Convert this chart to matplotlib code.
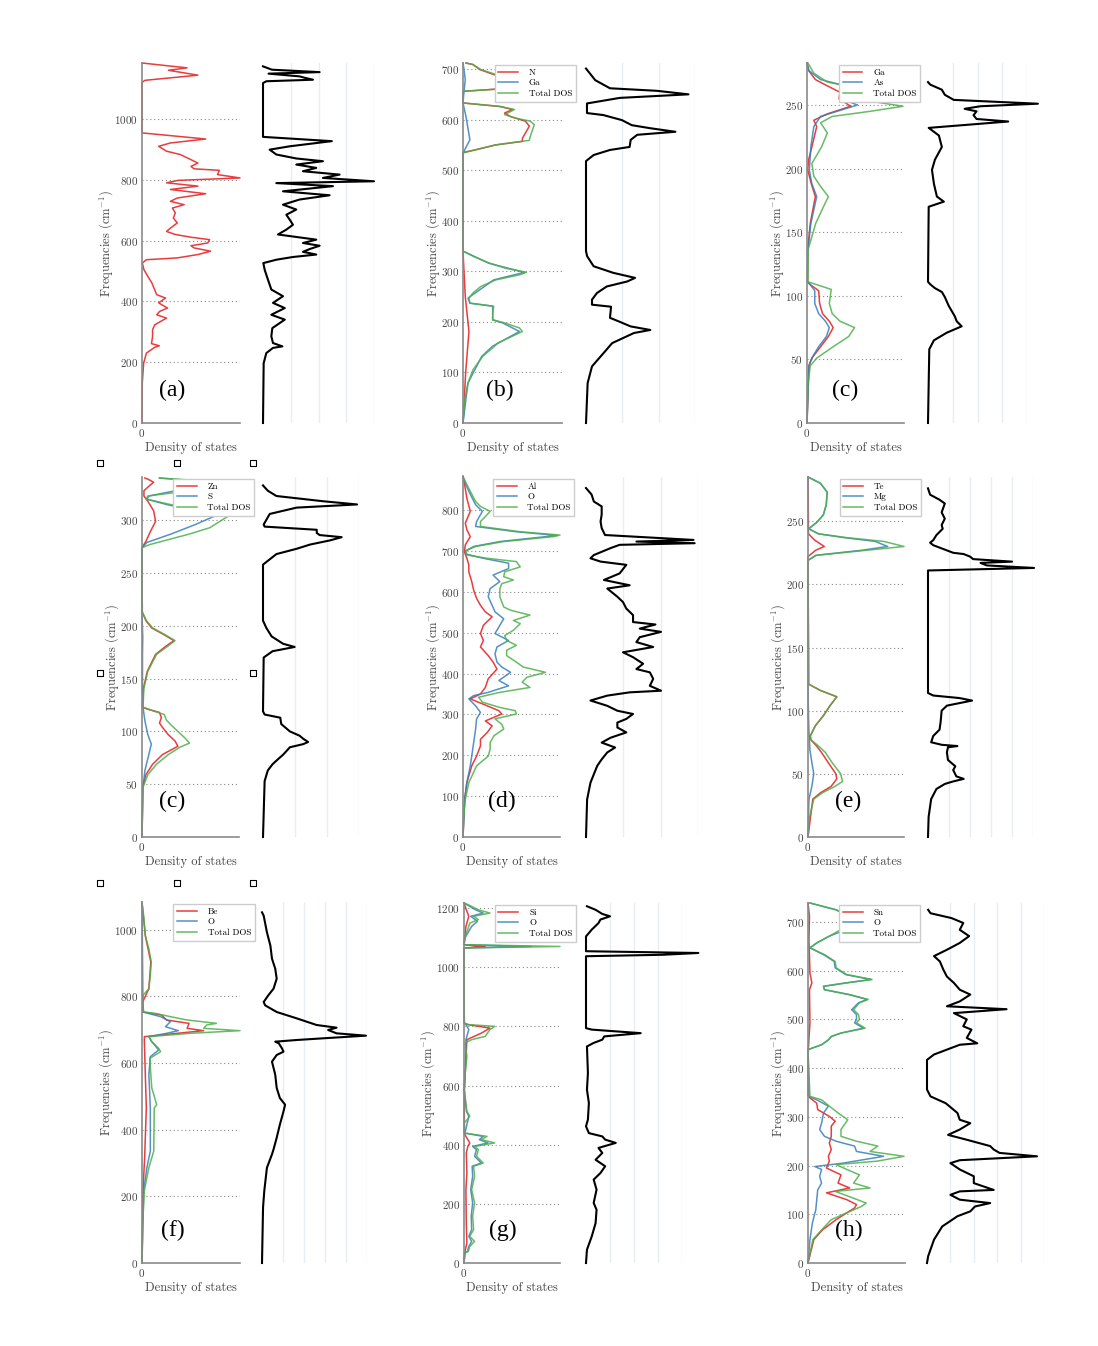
import matplotlib
matplotlib.use('Agg')
import matplotlib.pyplot as plt

# ---- data: (frequency cm^-1, DOS in % of panel width) ----
a_red = [(0,0),(132,0.3),(197,1.7),(230,4.5),(249,13),(254,17.7),(261,9.7),(285,10.8),(307,10.8),(323,13),(345,25),(356,15),(367,18),(378,26),(395,17),(411,24),(422,15),(461,10),(482,6),(504,2),(526,0.3),(537,4.5),(543,36),(554,57),(565,70),(576,53),(583,50),(592,67),(603,69),(611,50),(620,34),(630,25),(641,29),(658,36),(674,32),(691,34),(707,31),(718,43),(729,29),(740,36),(754,65),(768,29),(779,57),(790,25),(798,37),(806,100),(817,77),(831,79),(836,53),(844,50),(855,57),(866,50),(883,39),(894,25),(910,17),(921,29),(934,65),(943,36),(954,0.3),(965,0),(1120,0),(1127,3),(1144,57),(1160,27),(1168,46),(1184,0)]
a_black = [(0,0),(197,0.6),(230,3),(247,9),(252,17.5),(263,9),(285,7.5),(312,8.4),(340,19.6),(356,7.5),(378,19.6),(395,9),(417,18),(439,7.5),(471,4.5),(504,1.5),(526,0.3),(537,12),(546,27),(554,48),(563,36),(572,42),(583,51),(592,36),(603,48),(620,13.5),(636,21),(652,27),(669,24),(685,21),(702,30),(718,18),(735,33),(749,60),(762,18),(779,63),(789,12),(795,100),(806,54),(817,69),(828,36),(839,48),(850,30),(861,54),(870,30),(883,12),(899,6),(910,24),(927,62),(941,0),(1118,0),(1124,3),(1129,45),(1135,38),(1140,33),(1149,5),(1154,51),(1162,8),(1173,0)]

b_n = [(0,0),(100,2.7),(181,6),(250,2.3),(300,1),(340,0),(535,0),(540,12),(550,33),(557,60),(563,60),(587,67),(597,63),(606,48),(613,42),(620,50),(626,37),(633,0),(656,0),(659,23),(669,100),(676,73),(685,37),(699,17),(709,10),(712,3)]
b_ga = [(0,0),(79,5),(132,19),(152,30),(181,57),(198,40),(204,30),(231,30),(237,7),(247,5),(283,31),(298,62),(316,26),(340,0),(534,0),(560,7),(606,3),(633,0),(656,1),(679,2.3),(699,1),(712,0)]
b_total = [(0,0),(46,1.7),(79,5),(105,10),(132,20),(152,32),(158,35),(181,60),(188,57),(198,42),(204,30),(218,30),(231,31),(237,7),(247,6),(257,10),(270,18),(283,33),(293,57),(298,64),(306,43),(316,27),(330,10),(340,0),(534,0),(540,12),(550,33),(559,67),(567,68),(590,72),(597,68),(603,53),(610,42),(620,52),(626,38),(633,0),(656,0),(660,33),(669,99),(676,77),(685,40),(699,18),(709,10),(712,3)]
b_black = [(0,0),(79,1.5),(112,5.5),(138,16),(158,24),(178,44),(184,59),(191,41),(201,30),(208,22),(230,23),(234,5.5),(244,5.5),(257,10),(270,19),(280,38),(287,45),(297,25),(310,7),(330,1),(340,0),(518,0),(530,7),(540,22),(546,40),(560,41),(570,47),(576,82),(583,59),(589,42),(599,33),(609,16),(613,0.9),(632,0.9),(643,31),(650,94),(657,65),(662,22),(678,8.5),(701,0)]

c_ga = [(0,0),(45,2),(51,5),(60,14),(68,22),(75,27),(80,23),(86,16),(94,13),(104,12),(109,3),(111,0.5),(136,0.7),(157,3.4),(178,8.6),(188,4.5),(199,0.7),(207,1.7),(217,5),(233,10),(238,7),(243,21),(249,45),(255,33),(260,34),(265,21),(270,8.6),(277,1.7),(283,0)]
c_as = [(0,0),(45,2),(51,5),(60,12),(68,20),(75,23),(80,19),(86,12),(94,8),(104,8),(109,3),(111,0.5),(136,1),(157,4),(178,10),(188,5),(199,2.4),(217,4),(233,7),(241,14),(250,52),(254,38),(259,38),(264,45),(270,14),(277,2),(283,0)]
c_total = [(0,0),(31,1),(45,3.4),(51,10),(60,27),(68,43),(75,49),(80,34),(86,26),(94,23),(105,25),(109,9),(111,1),(136,1),(157,9),(170,17),(178,22),(186,14),(194,7),(204,5),(217,15),(228,21),(236,14),(241,26),(245,65),(249,99),(253,65),(255,55),(260,82),(264,48),(268,21),(275,7),(283,1)]
c_black = [(0,0),(58,1.3),(65,6),(71,19),(76,34),(80,29),(84,27),(92,21),(99,17),(103,14),(106,7),(109,2.3),(111,0),(170,0.7),(174,16),(178,9),(188,6),(199,4),(207,7),(217,14),(226,11),(232,0.7),(237,81),(239,49),(242,46),(245,49),(247,37),(249,53),(251,111),(254,26),(258,17),(262,14),(266,2.3),(268,0)]

z_zn = [(0,0),(47,0.7),(59,4),(69,11),(78,21),(86,37),(91,34),(97,27),(104,21),(108,18),(113,20),(118,18),(121,6),(123,0.3),(141,1.5),(157,5.5),(173,14),(181,25),(186,33),(192,22),(198,10),(205,4),(213,0.3),(274,0),(280,4),(290,9),(299,14),(309,12),(318,6),(323,2),(328,2),(333,8),(336,12),(339,6),(340,3)]
z_s = [(0,0),(47,1),(63,3),(78,7),(88,9.6),(97,6),(110,3),(123,1),(141,0.5),(173,0.5),(189,0.8),(211,0),(274,0),(279,5),(287,30),(296,55),(304,75),(309,55),(315,25),(320,5),(323,7),(329,40),(334,86),(337,60),(340,18)]
z_total = [(0,0),(47,1),(59,6),(69,15),(78,27),(85,39),(89,49),(94,44),(100,37),(107,29),(111,25),(116,23),(119,13),(123,1),(141,2),(157,6),(173,15),(181,27),(186,34),(192,23),(198,11),(205,4.5),(213,0.3),(274,0),(277,8),(287,49),(293,70),(304,89),(309,67),(315,29),(320,4.5),(323,6),(328,49),(333,84),(335,99),(337,70),(340,18)]
z_black = [(0,0),(53,1.7),(63,5),(69,10),(74,16),(78,21),(85,28),(88,42),(90,47),(93,42),(96,38),(100,28),(107,19),(113,18),(116,1.7),(119,0),(170,0.7),(176,10),(180,33),(183,21),(190,9),(198,3.5),(205,0),(258,0),(268,14),(273,35),(277,49),(281,70),(284,82),(286,59),(288,56),(291,56),(294,1.7),(296,0.7),(306,7),(312,35),(315,98),(318,63),(323,14),(328,5),(333,0)]

d_al = [(0,0),(92,1.7),(133,4),(174,9),(198,14),(223,18),(239,18),(256,25),(272,30),(284,23),(301,40),(309,37),(321,25),(338,7.5),(350,18),(366,23),(387,26),(411,35),(428,31),(444,26),(465,18),(481,21),(498,18),(518,21),(539,30),(551,23),(567,18),(584,14),(604,11),(625,9),(649,6),(666,6),(682,4),(698,1.4),(715,2.4),(735,7.5),(752,4),(768,2.4),(797,7.5),(829,4),(862,1.7),(883,0)]
d_o = [(0,0),(92,1.7),(133,4),(174,7.5),(198,9),(231,11),(264,13),(289,14),(305,18),(321,13),(338,6),(346,11),(354,26),(370,47),(383,37),(403,49),(416,40),(428,35),(448,33),(465,35),(481,47),(498,33),(514,37),(534,42),(551,33),(567,30),(588,26),(608,28),(625,38),(641,31),(657,47),(670,47),(682,21),(692,4),(700,2.4),(711,11),(723,38),(738,97),(747,55),(760,13),(772,14),(797,20),(813,13),(846,6),(879,0)]
d_total = [(0,0),(51,0.7),(92,2.4),(133,6),(174,14),(198,26),(215,28),(231,28),(248,32),(264,42),(276,40),(289,33),(301,55),(309,54),(317,38),(330,20),(342,16),(354,38),(366,69),(379,61),(391,66),(403,85),(416,62),(428,55),(444,45),(457,45),(469,55),(481,45),(493,43),(506,52),(522,59),(530,52),(543,69),(555,49),(563,42),(575,40),(588,38),(608,38),(620,40),(629,52),(637,42),(649,43),(661,59),(674,55),(682,25),(690,4),(700,2.4),(711,13),(723,42),(735,93),(739,100),(747,59),(760,18),(772,18),(784,23),(797,28),(809,18),(821,13),(846,7.5),(870,2.4),(883,0)]
d_black = [(0,0),(92,1),(133,4),(174,10),(190,14),(207,19),(219,26),(231,14),(243,22),(256,36),(268,28),(280,28),(289,36),(301,42),(309,28),(321,19),(334,4),(346,19),(354,39),(358,67),(370,57),(387,60),(403,57),(411,45),(424,51),(440,42),(452,33),(465,60),(477,45),(489,48),(502,67),(510,48),(520,62),(526,42),(543,42),(559,36),(575,33),(588,28),(608,19),(616,39),(629,16),(645,30),(666,36),(674,13),(682,4),(690,7),(707,22),(715,30),(719,97),(723,45),(727,96),(739,17),(756,14),(772,13),(789,14),(809,14),(821,7),(838,5),(854,0)]

e_te = [(0,0),(30,5),(35,13),(40,24),(46,30),(50,29),(59,21),(67,14),(72,9),(77,3),(80,2.4),(88,7.6),(96,16),(104,23),(111,30),(116,13),(121,0.7),(222,0),(227,8),(230,17),(235,7),(240,0.5),(285,0)]
e_mg = [(0,0),(30,1),(40,4),(50,6),(59,4),(69,2),(83,1),(96,0.5),(121,0),(219,0),(223,8),(227,56),(230,83),(234,70),(237,38),(240,11),(244,0.7),(249,9),(255,16),(263,19),(273,20),(280,13),(285,0)]
e_total = [(0,0),(16,1.7),(30,6),(35,15),(40,28),(44,36),(50,34),(59,25),(67,18),(72,11),(77,3),(80,2.4),(88,7.6),(96,16),(104,23),(111,30),(116,13),(121,0.7),(219,0),(223,9),(227,61),(230,100),(234,79),(237,40),(240,11),(244,0.7),(249,9),(255,16),(263,19),(273,20),(280,13),(285,0)]
e_black = [(0,0),(16,0.6),(30,3),(38,8),(42,16),(44,24),(46,34),(48,27),(53,24),(56,26),(61,19),(67,18),(71,19),(72,28),(73,13),(75,3),(80,5),(85,11),(91,12),(100,13),(104,18),(108,42),(110,30),(112,5),(114,0),(211,0),(213,101),(215,56),(217,50),(218,80),(220,43),(222,40),(224,34),(225,24),(231,5),(233,2),(235,5),(239,8),(244,14),(247,13),(252,16),(257,13),(264,16),(267,11),(271,2),(276,0)]

f_be = [(0,0),(217,1),(316,2.7),(465,4.4),(565,3.4),(664,2.4),(679,2.4),(687,29),(697,63),(704,46),(719,48),(729,25),(744,20),(753,1),(783,0.7),(823,7),(903,9),(982,3.4),(1082,0)]
f_o = [(0,0),(217,1.7),(286,5),(336,8.5),(465,8.5),(565,7),(619,8.5),(639,17),(664,10),(679,7),(689,25),(697,37),(709,24),(724,29),(739,19),(753,1),(863,0.7),(1082,0)]
f_total = [(0,0),(117,0.7),(217,2.4),(286,7),(336,12),(465,12.5),(475,15),(525,10),(565,9),(614,8),(624,13.5),(634,19),(644,17),(664,10),(679,7),(689,49),(697,100),(704,63),(714,66),(719,76),(729,46),(739,29),(749,13.5),(753,1.7),(783,0.7),(803,1),(823,7),(863,8.5),(903,9.5),(942,7),(982,3.4),(1042,1.7),(1082,0)]
f_black = [(0,0),(167,1),(217,2.2),(286,4.7),(326,9.5),(341,11),(376,14),(415,17),(455,20.5),(475,22),(495,17),(525,14),(565,12.6),(604,9.5),(624,14),(634,20.5),(644,19),(659,16),(664,12.6),(669,33),(674,58),(682,99),(689,71),(699,63),(706,71),(714,52),(734,33),(753,14),(773,3),(783,1.6),(803,6),(823,11),(853,14),(883,12.6),(913,9.5),(952,8),(992,4.7),(1042,1.6),(1052,0)]

g_si = [(0,0),(34,0.7),(68,3),(135,2.4),(248,2),(304,3),(372,2.4),(394,4),(406,6),(417,4),(428,2),(439,0.3),(586,0.3),(755,3),(777,18),(794,27),(806,4),(811,0.3),(1065,0),(1070,22),(1076,0),(1138,2),(1172,5),(1189,3),(1217,0)]
g_o = [(0,0),(34,1),(39,3.5),(56,5),(73,8),(90,5),(113,8),(158,7.5),(203,9),(248,7),(293,9),(327,8.5),(338,18),(361,11),(383,13),(394,9),(406,25),(417,16),(428,20),(439,1),(496,5),(513,2.5),(586,0.3),(699,2),(755,2),(789,5),(806,2),(811,0.3),(1065,0),(1070,70),(1076,0),(1099,1),(1138,8),(1155,14),(1172,7),(1183,20),(1194,12),(1211,3),(1217,0)]
g_total = [(0,0),(34,1),(39,4.5),(56,6),(73,11),(90,6),(113,10),(158,9),(203,11),(248,8),(293,11),(327,10),(338,20),(361,13),(383,15),(394,11),(406,32),(417,18),(428,24),(439,1),(473,0.3),(496,6),(513,3),(586,0.3),(631,1),(699,3),(744,1),(755,8),(766,22),(789,27),(800,32),(806,4.5),(811,0.3),(1065,0),(1070,100),(1076,0),(1099,1),(1149,6),(1161,15),(1172,10),(1183,27),(1194,15),(1211,4.5),(1217,0)]
g_black = [(0,0),(45,1),(90,6),(135,10),(180,11),(203,8),(248,11),(282,8),(304,15),(327,20),(349,10),(372,17),(389,13),(406,31),(417,20),(428,17),(439,3),(462,0),(485,2),(541,3),(586,1),(642,2),(732,1),(744,8),(755,17),(766,19),(777,57),(789,6),(794,0),(1037,0),(1042,80),(1048,117),(1054,0),(1104,0),(1127,6),(1149,13),(1161,15),(1172,25),(1180,17),(1194,10),(1206,1)]

h_sn = [(0,0),(48,6),(68,15),(89,29),(103,40),(113,48),(120,50),(130,40),(144,19),(154,43),(164,31),(181,34),(195,19),(209,22),(219,21),(233,24),(246,22),(260,24),(281,24),(291,28),(301,22),(315,10),(328,9),(339,2),(345,0),(438,0.3),(493,2),(561,1.5),(575,4),(595,2),(664,1),(712,1.5),(739,0)]
h_o = [(0,0),(48,2),(82,4.5),(109,8),(150,10),(164,14),(178,12),(192,14),(198,7),(205,36),(219,78),(229,50),(240,48),(250,29),(260,17),(274,12),(287,14),(308,16),(322,21),(335,9),(342,1),(438,0),(448,14),(458,21),(465,24),(472,34),(482,57),(493,48),(500,50),(510,50),(520,45),(534,52),(541,61),(551,42),(561,17),(568,16),(575,39),(582,65),(592,39),(606,28),(619,27),(633,16),(647,2),(657,9),(671,22),(691,48),(705,36),(715,38),(725,29),(739,2)]
h_total = [(0,0),(48,5),(68,14),(89,24),(103,40),(116,55),(123,60),(133,47),(147,28),(154,64),(164,47),(181,53),(192,40),(202,29),(209,71),(219,99),(229,64),(240,72),(250,50),(260,34),(274,34),(294,41),(308,31),(322,22),(335,14),(342,2),(438,0),(448,14),(458,21),(465,24),(472,34),(482,59),(493,50),(500,53),(510,52),(520,47),(534,53),(541,62),(551,43),(561,17),(568,16),(575,40),(582,66),(592,40),(606,29),(619,28),(633,17),(647,2),(657,9),(671,22),(691,40),(698,45),(705,36),(715,40),(725,29),(739,2)]
h_black = [(0,0),(14,1),(48,6),(75,13),(96,26),(106,37),(116,41),(123,54),(130,28),(140,20),(147,28),(150,57),(164,40),(178,40),(192,28),(205,20),(211,28),(219,94),(226,62),(233,57),(240,54),(253,34),(263,18),(274,28),(287,37),(294,28),(308,26),(318,21),(328,16),(342,3),(356,0),(417,0),(428,6),(438,17),(448,28),(451,43),(462,34),(479,38),(486,31),(500,34),(513,23),(521,68),(527,17),(537,28),(551,37),(561,28),(575,23),(588,17),(602,14),(619,11),(630,6),(643,17),(657,28),(671,36),(684,28),(698,31),(708,21),(718,3),(725,1)]

# selection handles of the pasted image (pixel positions)
handle_x = [100, 177, 253, 100, 253, 100, 177, 253]
handle_y = [463, 463, 463, 673, 673, 883, 883, 883]

# ---- style ----
plt.rcParams['font.family'] = ['cmr10', 'DejaVu Serif']
plt.rcParams['mathtext.fontset'] = 'cm'
plt.rcParams['axes.formatter.use_mathtext'] = True
plt.rcParams['axes.unicode_minus'] = False

RED, BLUE, GREEN = '#e41a1c', '#377eb8', '#4daf4a'
TXT = '#444444'
W, H = 1098, 1346

fig = plt.figure(figsize=(W / 100, H / 100), dpi=100)


def px_axes(x0, x1, ytop, ybot):
    return fig.add_axes([x0 / W, 1 - ybot / H, (x1 - x0) / W, (ybot - ytop) / H])


panels = [
    # label, partial curves, black, ymax, tick step, left x, black x, n grid, rows, label pos, legend x, names
    ('(a)', [(a_red, RED)], a_black, 1184, 200, (142, 240), (263, 374), 4, (63, 423), (0.31, 0.09), None, None),
    ('(b)', [(b_n, RED), (b_ga, BLUE), (b_total, GREEN)], b_black, 712, 100, (463, 562), (586, 695), 3, (63, 423), (0.37, 0.09), 0.32, ['N', 'Ga', 'Total DOS']),
    ('(c)', [(c_ga, RED), (c_as, BLUE), (c_total, GREEN)], c_black, 283, 50, (807, 904), (928, 1027), 4, (63, 423), (0.39, 0.09), 0.33, ['Ga', 'As', 'Total DOS']),
    ('(c)', [(z_zn, RED), (z_s, BLUE), (z_total, GREEN)], z_black, 341, 50, (142, 239), (263, 359), 3, (477, 837), (0.31, 0.10), 0.32, ['Zn', 'S', 'Total DOS']),
    ('(d)', [(d_al, RED), (d_o, BLUE), (d_total, GREEN)], d_black, 881, 100, (463, 560), (586, 698), 3, (477, 837), (0.40, 0.10), 0.31, ['Al', 'O', 'Total DOS']),
    ('(e)', [(e_te, RED), (e_mg, BLUE), (e_total, GREEN)], e_black, 285, 50, (808, 904), (928, 1033), 5, (477, 837), (0.42, 0.10), 0.33, ['Te', 'Mg', 'Total DOS']),
    ('(f)', [(f_be, RED), (f_o, BLUE), (f_total, GREEN)], f_black, 1083, 200, (142, 240), (262, 367), 5, (902, 1263), (0.31, 0.09), 0.32, ['Be', 'O', 'Total DOS']),
    ('(g)', [(g_si, RED), (g_o, BLUE), (g_total, GREEN)], g_black, 1217, 200, (464, 560), (586, 682), 4, (903, 1263), (0.40, 0.09), 0.32, ['Si', 'O', 'Total DOS']),
    ('(h)', [(h_sn, RED), (h_o, BLUE), (h_total, GREEN)], h_black, 739, 100, (808, 905), (927, 1044), 5, (903, 1263), (0.42, 0.09), 0.32, ['Sn', 'O', 'Total DOS']),
]

for label, curves, black, ymax, step, lx, bx, ngrid, rows, lpos, legx, names in panels:
    ax = px_axes(lx[0], lx[1], rows[0], rows[1])
    handles = []
    for pts, col in curves:
        f, d = zip(*pts)
        h, = ax.plot(d, f, color=col, lw=1.1, alpha=0.85, clip_on=False)
        handles.append(h)
    ax.set_xlim(0, 100)
    ax.set_ylim(0, ymax)
    ax.set_xticks([0])
    ax.set_yticks(range(0, ymax + 1, step))
    ax.tick_params(length=0, labelsize=8, labelcolor=TXT, pad=3)
    for s in ['top', 'right']:
        ax.spines[s].set_visible(False)
    for s in ['left', 'bottom']:
        ax.spines[s].set_color('#8a8a8a')
        ax.spines[s].set_linewidth(1.2)
    ax.grid(axis='y', color='#888888', linestyle=(0, (1, 2.5)), lw=0.8)
    ax.set_axisbelow(True)
    ax.set_ylabel('Frequencies (cm$^{-1}$)', fontsize=9, color=TXT, labelpad=-1)
    ax.set_xlabel('Density of states', fontsize=9, color=TXT, labelpad=2)
    ax.text(lpos[0], lpos[1], label, transform=ax.transAxes, fontsize=17,
            family='Liberation Serif', ha='center', va='center')
    if names:
        ax.legend(handles, names, loc='upper left', bbox_to_anchor=(legx, 0.995),
                  fontsize=6.5, frameon=True, fancybox=False, edgecolor='#cccccc',
                  framealpha=1, handlelength=2.2, borderpad=0.4, labelspacing=0.25,
                  handletextpad=1.2, borderaxespad=0)

    # total DOS panel on the right
    bk = px_axes(bx[0], bx[1], rows[0], rows[1])
    bk.set_xlim(0, 100)
    bk.set_ylim(0, ymax)
    bk.axis('off')
    for k in range(1, ngrid + 1):
        bk.axvline(100 * k / ngrid, color='#e8ecf3', lw=1.0, zorder=0)
    f, d = zip(*black)
    bk.plot(d, f, color='black', lw=1.5, clip_on=False)

# handles overlay
ov = fig.add_axes([0, 0, 1, 1])
ov.set_xlim(0, W)
ov.set_ylim(H, 0)
ov.axis('off')
ov.scatter(handle_x, handle_y, marker='s', s=20, facecolor='white', edgecolor='black', lw=0.8)

fig.savefig('out.png', dpi=100)
